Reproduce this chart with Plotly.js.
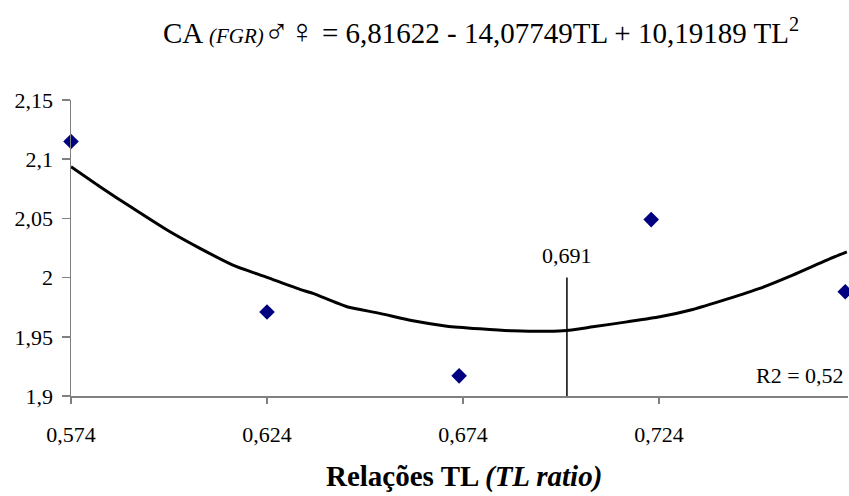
<!DOCTYPE html>
<html>
<head>
<meta charset="utf-8">
<script src="https://cdn.plot.ly/plotly-3.0.1.min.js"></script>
<style>html,body{margin:0;padding:0;background:#fff;}#chart{width:849px;height:496px;}</style>
</head>
<body>
<div id="chart"></div>
<script>
// Observed points
const obsX = [0.574, 0.624, 0.673, 0.722, 0.7715];
const obsY = [2.115, 1.971, 1.917, 2.049, 1.988];

// Fitted curve
const fitX = [0.574, 0.5814, 0.5898, 0.5985, 0.6069, 0.6153, 0.624, 0.6324, 0.6357, 0.6444, 0.6528, 0.6612, 0.6699, 0.6783, 0.6867, 0.6995, 0.7071, 0.7158, 0.7242, 0.7326, 0.7413, 0.7497, 0.7581, 0.7668, 0.7719];
const fitY = [2.0936, 2.0767, 2.0585, 2.0402, 2.0247, 2.0106, 2.0002, 1.990, 1.9867, 1.9754, 1.9698, 1.9635, 1.959, 1.9568, 1.9551, 1.9551, 1.9584, 1.9626, 1.9669, 1.9731, 1.9818, 1.9909, 2.0021, 2.0148, 2.0218];

// Vertical marker line
const vlineX = [0.7005, 0.7005];
const vlineY = [1.9, 2.0];
const vlineLabel = "0,691";

const xTickVals = [0.574, 0.624, 0.674, 0.724];
const xTickText = ["0,574", "0,624", "0,674", "0,724"];
const yTickVals = [1.9, 1.95, 2.0, 2.05, 2.1, 2.15];
const yTickText = ["1,9", "1,95", "2", "2,05", "2,1", "2,15"];

const titleText = 'CA <i><span style="font-size:21px">(FGR)</span></i><span style="font-size:34px">♂♀</span> = 6,81622 - 14,07749TL + 10,19189 TL<sup>2</sup>';
const xTitleText = '<b>Relações TL <i>(TL ratio)</i></b>';
const r2Text = 'R2 = 0,52';

const serif = 'Liberation Serif, Times New Roman, serif';

const traces = [
  {x: fitX, y: fitY, mode: 'lines', type: 'scatter', line: {color: '#000', width: 3, shape: 'spline', smoothing: 0.6}, hoverinfo: 'skip'},
  {x: vlineX, y: vlineY, mode: 'lines', type: 'scatter', line: {color: '#000', width: 1.5}, hoverinfo: 'skip'},
  {x: obsX, y: obsY, mode: 'markers', type: 'scatter', marker: {symbol: 'diamond', size: 12, color: '#000080'}, cliponaxis: false}
];

const layout = {
  width: 849, height: 496,
  margin: {l: 71, r: 1, t: 100, b: 100},
  paper_bgcolor: '#fff', plot_bgcolor: '#fff',
  showlegend: false,
  font: {family: serif, color: '#000', size: 22},
  xaxis: {
    range: [0.574, 0.7722], tickvals: xTickVals, ticktext: xTickText,
    showgrid: false, zeroline: false, showline: true, linecolor: '#808080', linewidth: 1.5,
    ticks: 'outside', ticklen: 6, tickcolor: '#808080', tickwidth: 1.5,
    tickfont: {family: serif, size: 22, color: '#000'}, ticklabelstandoff: 12
  },
  yaxis: {
    range: [1.9, 2.15], tickvals: yTickVals, ticktext: yTickText,
    showgrid: false, zeroline: false, showline: true, linecolor: '#808080', linewidth: 1.5,
    ticks: 'outside', ticklen: 8, tickcolor: '#808080', tickwidth: 1.5,
    tickfont: {family: serif, size: 22, color: '#000'}, ticklabelstandoff: 4
  },
  annotations: [
    {text: titleText, xref: 'paper', yref: 'paper', x: 0.528, y: 1.232, showarrow: false, xanchor: 'center', yanchor: 'middle', font: {family: serif, size: 29, color: '#000'}},
    {text: xTitleText, xref: 'paper', yref: 'paper', x: 0.506, y: -0.272, showarrow: false, xanchor: 'center', yanchor: 'middle', font: {family: serif, size: 29, color: '#000'}},
    {text: vlineLabel, x: vlineX[0], y: 2.0, xref: 'x', yref: 'y', yanchor: 'bottom', xanchor: 'center', showarrow: false, yshift: 8, font: {family: serif, size: 22, color: '#000'}},
    {text: r2Text, xref: 'paper', yref: 'paper', x: 0.997, y: 0.07, xanchor: 'right', yanchor: 'middle', showarrow: false, font: {family: serif, size: 22, color: '#000'}}
  ]
};

Plotly.newPlot('chart', traces, layout, {displayModeBar: false, staticPlot: true});
</script>
</body>
</html>
